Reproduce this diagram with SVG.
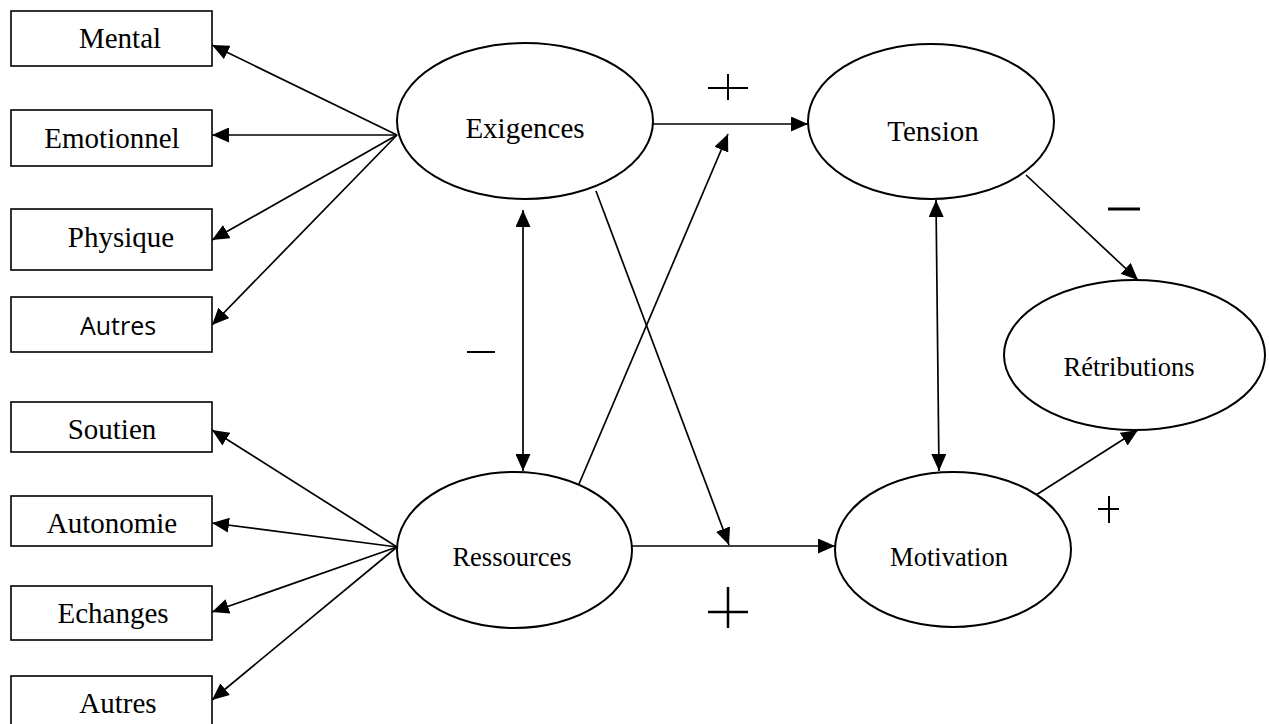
<svg xmlns="http://www.w3.org/2000/svg" width="1269" height="724" viewBox="0 0 1269 724">
<style>
.box{fill:#fff;stroke:#000;stroke-width:1.6}
.ell{fill:#fff;stroke:#000;stroke-width:2}
.t{font-family:"Liberation Serif","Times New Roman",serif;fill:#000;text-anchor:middle}
.s{font-family:"Open Sans","Liberation Sans",sans-serif;fill:#000;text-anchor:middle}
.c{fill:none;stroke:#000;stroke-width:1.7}
.sign{fill:none;stroke:#000;stroke-width:2}
</style>
<defs>
<marker id="ah" markerUnits="userSpaceOnUse" markerWidth="17" markerHeight="15" refX="17" refY="7.5" orient="auto-start-reverse">
<path d="M0,0 L17,7.5 L0,15 z" fill="#000"/>
</marker>
</defs>
<rect width="1269" height="724" fill="#fff"/>
<g id="connectors">
<line class="c" x1="397" y1="135" x2="212" y2="45" marker-end="url(#ah)"/>
<line class="c" x1="397" y1="135" x2="212" y2="135" marker-end="url(#ah)"/>
<line class="c" x1="397" y1="135" x2="212" y2="240" marker-end="url(#ah)"/>
<line class="c" x1="397" y1="135" x2="212" y2="325" marker-end="url(#ah)"/>
<line class="c" x1="397" y1="547" x2="212" y2="430" marker-end="url(#ah)"/>
<line class="c" x1="397" y1="547" x2="212" y2="523" marker-end="url(#ah)"/>
<line class="c" x1="397" y1="547" x2="212" y2="612" marker-end="url(#ah)"/>
<line class="c" x1="397" y1="547" x2="212" y2="700" marker-end="url(#ah)"/>
<line class="c" x1="653" y1="124" x2="808" y2="124" marker-end="url(#ah)"/>
<line class="c" x1="632" y1="546" x2="835" y2="546" marker-end="url(#ah)"/>
<line class="c" x1="579" y1="484" x2="728" y2="134" marker-end="url(#ah)"/>
<line class="c" x1="596" y1="191" x2="729" y2="545" marker-end="url(#ah)"/>
<line class="c" x1="523" y1="210" x2="523" y2="471" marker-start="url(#ah)" marker-end="url(#ah)"/>
<line class="c" x1="936" y1="200" x2="939" y2="471" marker-start="url(#ah)" marker-end="url(#ah)"/>
<line class="c" x1="1026" y1="175" x2="1138" y2="280" marker-end="url(#ah)"/>
<line class="c" x1="1036" y1="495" x2="1138" y2="430" marker-end="url(#ah)"/>
</g>
<g id="signs">
<path class="sign" d="M708,88 H748 M728,74 V100"/>
<path class="sign" d="M708,612 H748 M728,587 V628" style="stroke-width:2.5"/>
<path class="sign" d="M467,352 H495"/>
<path class="sign" d="M1108,209 H1140" style="stroke-width:3"/>
<path class="sign" d="M1098,509 H1119 M1109,496 V523"/>
</g>
<g id="n-mental"><rect class="box" x="11" y="11" width="201" height="55"/><text class="t" x="120" y="48" font-size="29">Mental</text></g>
<g id="n-emotionnel"><rect class="box" x="11" y="110" width="201" height="56"/><text class="t" x="112" y="148" font-size="29">Emotionnel</text></g>
<g id="n-physique"><rect class="box" x="11" y="209" width="201" height="61"/><text class="t" x="121" y="247" font-size="29">Physique</text></g>
<g id="n-autres1"><rect class="box" x="11" y="297" width="201" height="55"/><text class="s" x="118" y="335" font-size="25">Autres</text></g>
<g id="n-soutien"><rect class="box" x="11" y="402" width="201" height="50"/><text class="t" x="112" y="439" font-size="29">Soutien</text></g>
<g id="n-autonomie"><rect class="box" x="11" y="496" width="201" height="50"/><text class="t" x="112" y="533" font-size="29">Autonomie</text></g>
<g id="n-echanges"><rect class="box" x="11" y="586" width="201" height="54"/><text class="t" x="113" y="623" font-size="29">Echanges</text></g>
<g id="n-autres2"><rect class="box" x="11" y="676" width="201" height="60"/><text class="t" x="118" y="713" font-size="29">Autres</text></g>
<g id="n-exigences"><ellipse class="ell" cx="525" cy="121" rx="128" ry="78"/><text class="t" x="525" y="138" font-size="29">Exigences</text></g>
<g id="n-ressources"><ellipse class="ell" cx="514.5" cy="550" rx="117.5" ry="78"/><text class="t" x="512" y="566" font-size="26.5">Ressources</text></g>
<g id="n-tension"><ellipse class="ell" cx="931" cy="121.5" rx="123" ry="77.5"/><text class="t" x="933" y="141" font-size="29">Tension</text></g>
<g id="n-motivation"><ellipse class="ell" cx="953" cy="549.5" rx="118" ry="77.5"/><text class="t" x="949" y="566" font-size="26.5">Motivation</text></g>
<g id="n-retributions"><ellipse class="ell" cx="1134.5" cy="355" rx="130.5" ry="75"/><text class="t" x="1129" y="376" font-size="26.5">Rétributions</text></g>
</svg>
